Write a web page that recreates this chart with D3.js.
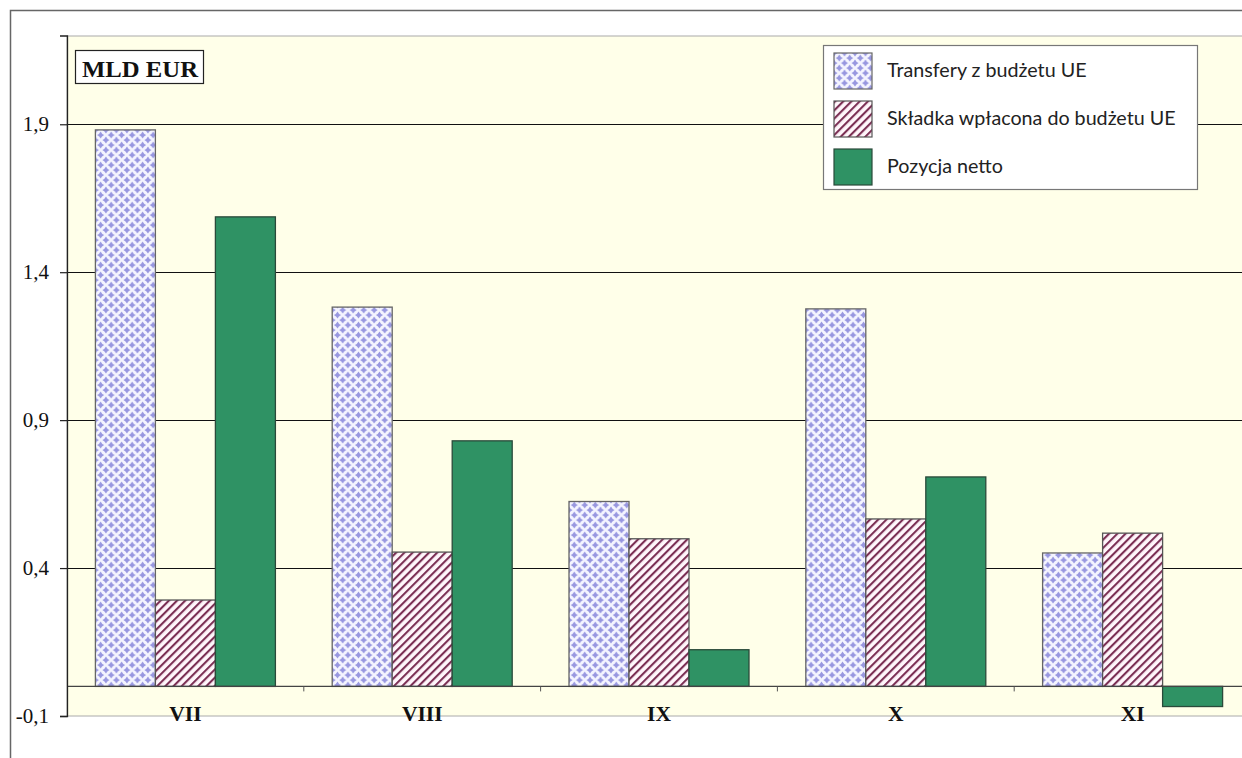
<!DOCTYPE html>
<html>
<head>
<meta charset="utf-8">
<script src="https://cdn.jsdelivr.net/npm/d3@7"></script>
<style>
  html, body { margin: 0; padding: 0; background: #fff; overflow: hidden; }
  svg { display: block; }
</style>
</head>
<body>
<svg id="chart" width="1242" height="758"></svg>
<script>
// dane (mld EUR)
var months = ["VII", "VIII", "IX", "X", "XI"];
var seriesNames = ["Transfery z budżetu UE", "Składka wpłacona do budżetu UE", "Pozycja netto"];
var transfery = [1.881, 1.282, 0.625, 1.276, 0.451];
var skladka = [0.292, 0.454, 0.499, 0.566, 0.518];
var netto = [1.587, 0.830, 0.124, 0.708, -0.068];
var yTicks = [-0.1, 0.4, 0.9, 1.4, 1.9];

var svg = d3.select("#chart");
var defs = svg.append("defs");

// wzór: kropki w kratkę
var pDots = defs.append("pattern").attr("id", "dots")
	.attr("patternUnits", "userSpaceOnUse").attr("width", 10.5).attr("height", 10);
pDots.append("rect").attr("width", 10.5).attr("height", 10).attr("fill", "#f4f4ff");
[[0,0],[10.5,0],[0,10],[10.5,10],[5.25,5]].forEach(function(c){
	var r = 3.5;
	pDots.append("path")
		.attr("d", "M" + c[0] + "," + (c[1]-r) + "Q" + (c[0]+r*0.3) + "," + (c[1]-r*0.3) + " " + (c[0]+r) + "," + c[1]
			+ "Q" + (c[0]+r*0.3) + "," + (c[1]+r*0.3) + " " + c[0] + "," + (c[1]+r)
			+ "Q" + (c[0]-r*0.3) + "," + (c[1]+r*0.3) + " " + (c[0]-r) + "," + c[1]
			+ "Q" + (c[0]-r*0.3) + "," + (c[1]-r*0.3) + " " + c[0] + "," + (c[1]-r) + "Z")
		.attr("fill", "#9897e0");
});

// wzór: ukośne paski
var pStripe = defs.append("pattern").attr("id", "stripes")
	.attr("patternUnits", "userSpaceOnUse").attr("width", 5.8).attr("height", 10)
	.attr("patternTransform", "rotate(45)");
pStripe.append("rect").attr("width", 5.8).attr("height", 10).attr("fill", "#fff6fb");
pStripe.append("rect").attr("width", 2.1).attr("height", 10).attr("fill", "#7b2f54");

var fills = ["url(#dots)", "url(#stripes)", "#2f9264"];
var strokes = ["#666", "#555", "#2a4a3a"];

// ramka zewnętrzna
svg.append("rect").attr("x", 10.5).attr("y", 10.5).attr("width", 1260).attr("height", 780)
	.attr("fill", "none").attr("stroke", "#666").attr("stroke-width", 1.5);

var plotL = 67, plotR = 1251, plotT = 36, plotB = 716;

var x = d3.scaleBand().domain(months).range([plotL, plotR]).paddingInner(0).paddingOuter(0);
var inner = d3.scaleBand().domain(d3.range(3)).range([0, 180]);
var y = d3.scaleLinear().domain([-0.1, 2.2]).range([plotB, plotT - 0.5]);

// tło obszaru wykresu
svg.append("rect").attr("x", plotL).attr("y", plotT).attr("width", plotR - plotL).attr("height", plotB - plotT)
	.attr("fill", "#ffffe9").attr("stroke", "#aaa").attr("stroke-width", 1);

// linie siatki
svg.append("g").selectAll("line").data(yTicks.filter(function(d){ return d > 0; })).enter()
	.append("line")
	.attr("x1", plotL).attr("x2", plotR)
	.attr("y1", function(d){ return Math.round(y(d)) + 0.5; })
	.attr("y2", function(d){ return Math.round(y(d)) + 0.5; })
	.attr("stroke", "#111").attr("stroke-width", 1.2);

// słupki
var data = months.map(function(m, i){ return [transfery[i], skladka[i], netto[i]]; });
var groups = svg.append("g").selectAll("g").data(data).enter().append("g")
	.attr("transform", function(d, i){ return "translate(" + (x(months[i]) + (x.bandwidth() - 180) / 2) + ",0)"; });
groups.selectAll("rect").data(function(d){ return d; }).enter().append("rect")
	.attr("x", function(d, j){ return inner(j); })
	.attr("width", inner.bandwidth())
	.attr("y", function(d){ return Math.min(y(d), y(0)); })
	.attr("height", function(d){ return Math.abs(y(d) - y(0)); })
	.attr("fill", function(d, j){ return fills[j]; })
	.attr("stroke", function(d, j){ return strokes[j]; })
	.attr("stroke-width", 1.3);

// linia zera + znaczniki kategorii
svg.append("line").attr("x1", plotL).attr("x2", plotR).attr("y1", y(0)).attr("y2", y(0))
	.attr("stroke", "#444").attr("stroke-width", 1.3);
svg.append("g").selectAll("line").data(months.slice(1)).enter().append("line")
	.attr("x1", function(d){ return x(d); }).attr("x2", function(d){ return x(d); })
	.attr("y1", y(0)).attr("y2", y(0) + 5)
	.attr("stroke", "#555");

// oś Y
var yAxis = d3.axisLeft(y).tickValues(yTicks).tickSize(7).tickPadding(11)
	.tickFormat(function(d){ return d3.format(".1f")(d).replace(".", ",").replace("\u2212", "-"); });
var gy = svg.append("g").attr("transform", "translate(" + plotL + ",0)").call(yAxis);
gy.select(".domain").attr("stroke", "#222").attr("stroke-width", 1.3);
gy.selectAll(".tick line").attr("stroke", "#222").attr("stroke-width", 1.2);
gy.selectAll(".tick text").attr("font-family", "'Liberation Serif', 'Times New Roman', serif")
	.attr("font-size", 21).attr("fill", "#111");

// etykiety miesięcy
svg.append("g").selectAll("text").data(months).enter().append("text")
	.attr("x", function(d){ return x(d) + x.bandwidth() / 2; })
	.attr("y", 721)
	.attr("text-anchor", "middle")
	.attr("font-family", "'Liberation Serif', 'Times New Roman', serif")
	.attr("font-weight", "bold").attr("font-size", 21.5).attr("fill", "#111")
	.text(function(d){ return d; });

// etykieta jednostki
svg.append("rect").attr("x", 75.5).attr("y", 50.5).attr("width", 128).attr("height", 33)
	.attr("fill", "#fff").attr("stroke", "#222").attr("stroke-width", 1.2);
svg.append("text").attr("x", 140).attr("y", 77).attr("text-anchor", "middle")
	.attr("font-family", "'Liberation Serif', 'Times New Roman', serif")
	.attr("font-weight", "bold").attr("font-size", 23).attr("fill", "#111")
	.attr("textLength", 116).attr("lengthAdjust", "spacingAndGlyphs")
	.text("MLD EUR");

// legenda
var lg = svg.append("g").attr("transform", "translate(823,45)");
lg.append("rect").attr("x", 0.5).attr("y", 0.5).attr("width", 374).attr("height", 144)
	.attr("fill", "#fff").attr("stroke", "#777").attr("stroke-width", 1.2);
var items = lg.selectAll("g").data(seriesNames).enter().append("g")
	.attr("transform", function(d, i){ return "translate(11," + (8 + i * 48) + ")"; });
items.append("rect").attr("width", 38).attr("height", 36)
	.attr("fill", function(d, i){ return fills[i]; })
	.attr("stroke", function(d, i){ return strokes[i]; }).attr("stroke-width", 1.2);
items.append("text").attr("x", 53).attr("y", 24)
	.attr("font-family", "Lato, 'Open Sans', sans-serif").attr("font-size", 19.7).attr("fill", "#222")
	.text(function(d){ return d; });
</script>
</body>
</html>
